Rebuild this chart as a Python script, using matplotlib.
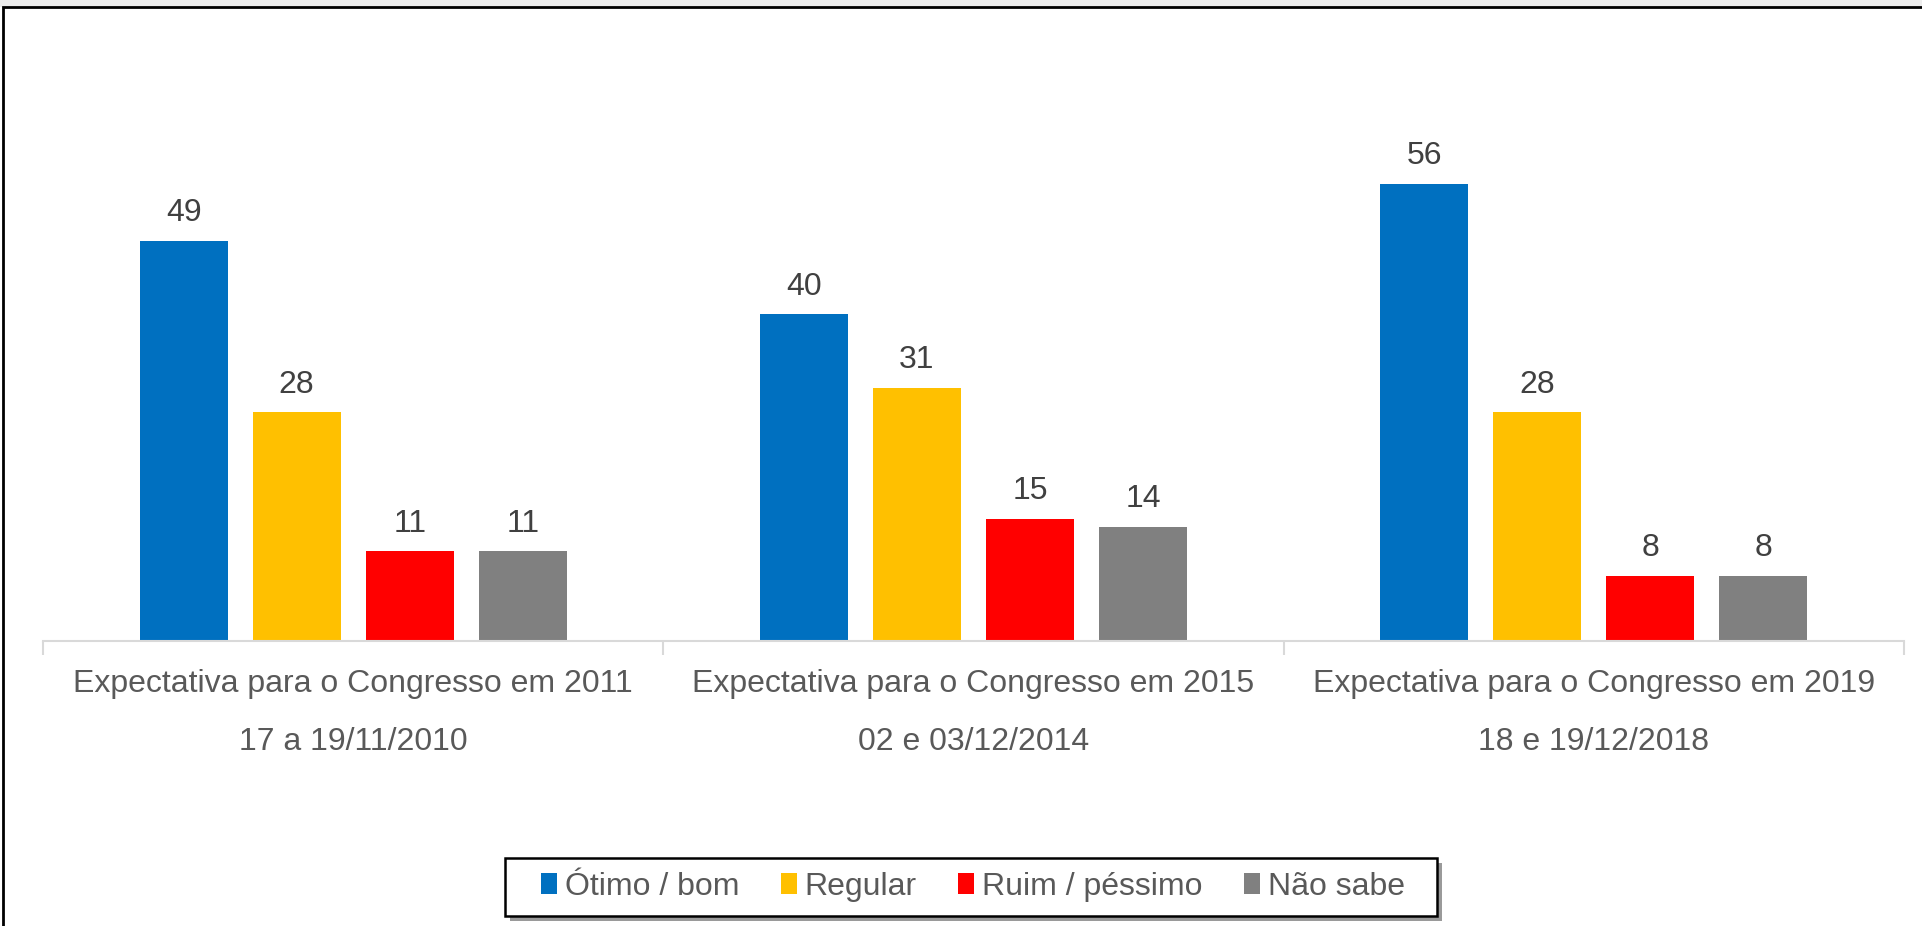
import numpy as np
import matplotlib.pyplot as plt
from matplotlib.patches import Rectangle

plt.rcParams['font.family'] = ['Liberation Sans', 'DejaVu Sans']

# data
groups = ["Expectativa para o Congresso em 2011\n17 a 19/11/2010",
          "Expectativa para o Congresso em 2015\n02 e 03/12/2014",
          "Expectativa para o Congresso em 2019\n18 e 19/12/2018"]
series = ["Ótimo / bom", "Regular", "Ruim / péssimo", "Não sabe"]
otimo = [49, 40, 56]
regular = [28, 31, 28]
ruim = [11, 15, 8]
nao_sabe = [11, 14, 8]
colors = ["#0070C0", "#FFC000", "#FF0000", "#808080"]

W, H = 1922, 926
fig = plt.figure(figsize=(W/100, H/100), dpi=100)
ax = fig.add_axes([43/W, (H-641)/H, (1904-43)/W, (641-151)/H])

x = np.arange(len(groups))
width = 88/620
pitch = 113/620
for i, (name, vals) in enumerate(zip(series, [otimo, regular, ruim, nao_sabe])):
    bars = ax.bar(x + (i-1.5)*pitch, vals, width, color=colors[i], label=name)
    ax.bar_label(bars, padding=9, fontsize=23, color="#404040")

ax.set_xlim(-0.5, len(groups)-0.5)
ax.set_ylim(0, 60)
ax.set_yticks([])
for s in ["top", "right", "left"]:
    ax.spines[s].set_visible(False)
ax.spines["bottom"].set_color("#d9d9d9")
ax.spines["bottom"].set_linewidth(1.5)

ax.set_xticks(x)
ax.set_xticklabels(groups, fontsize=23, color="#595959", linespacing=2.22)
ax.tick_params(axis="x", which="major", length=0, pad=20)
ax.set_xticks(np.arange(len(groups)+1)-0.5, minor=True)
ax.tick_params(axis="x", which="minor", length=10, color="#d9d9d9", width=1.5)

# legend with a hand-drawn box (Excel style: wide side padding, black edge, shadow)
leg = fig.legend(loc="center", bbox_to_anchor=(973/W, 1-887/H), ncol=4,
                 frameon=False, fontsize=23, handlelength=0.5, handleheight=0.62,
                 handletextpad=0.25, columnspacing=1.3, labelcolor="#595959")
x0, x1, y0, y1 = 505, 1437, 858, 916
fig.patches.append(Rectangle(((x0+5)/W, 1-(y1+5)/H), (x1-x0)/W, (y1-y0)/H,
                             transform=fig.transFigure, facecolor="#9a9a9a",
                             edgecolor="none", zorder=1))
fig.patches.append(Rectangle((x0/W, 1-y1/H), (x1-x0)/W, (y1-y0)/H,
                             transform=fig.transFigure, facecolor="white",
                             edgecolor="black", linewidth=1.8, zorder=2))
leg.set_zorder(3)

# outer frame of the chart
fig.patches.append(Rectangle((3/W, -0.05), 1.1, (H-7)/H + 0.05, transform=fig.transFigure,
                             fill=False, edgecolor="black", linewidth=2))
fig.patches.append(Rectangle((0, (H-7)/H), 1, 7/H, transform=fig.transFigure,
                             facecolor="#ededed", edgecolor="none", zorder=-1))

fig.savefig("out.png", dpi=100)
